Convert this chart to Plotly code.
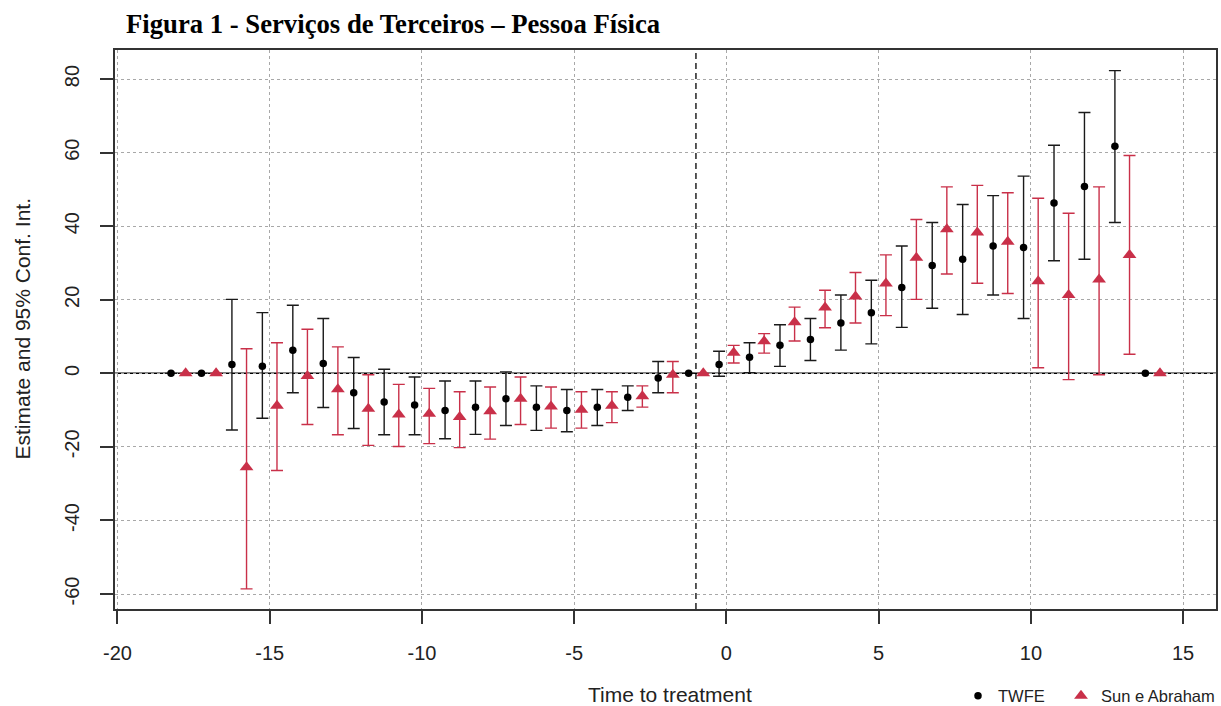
import plotly.graph_objects as go

# ---- data ----
periods = list(range(-18, 15))

twfe_est = [0, 0, 2.4, 1.9, 6.3, 2.7, -5.3, -7.8, -8.6, -10.1, -9.2, -6.9, -9.2, -10.1, -9.2, -6.5, -1.3, 0,
            2.4, 4.4, 7.6, 9.2, 13.7, 16.5, 23.3, 29.3, 31.0, 34.6, 34.2, 46.3, 50.8, 61.7, 0]
twfe_lo = [None, None, -15.4, -12.2, -5.3, -9.3, -15.0, -16.7, -16.7, -17.8, -16.6, -14.2, -15.5, -15.9, -14.2, -10.1, -5.3, None,
           -0.8, 0.2, 1.9, 3.5, 6.3, 8.0, 12.5, 17.7, 16.0, 21.3, 14.9, 30.6, 31.0, 41.0, None]
twfe_hi = [None, None, 20.1, 16.5, 18.5, 14.9, 4.3, 1.1, -1.0, -2.1, -2.1, 0.4, -3.4, -4.4, -4.4, -3.4, 3.2, None,
           6.0, 8.3, 13.2, 14.9, 21.3, 25.3, 34.6, 41.0, 45.9, 48.3, 53.6, 62.0, 70.9, 82.3, None]

sa_est = [0, 0, -25.5, -8.8, -0.7, -4.3, -9.6, -11.2, -11.0, -11.9, -10.3, -6.9, -9.0, -9.9, -8.8, -6.2, -0.4, 0,
          5.6, 8.7, 13.9, 17.9, 20.9, 24.4, 31.4, 39.2, 38.3, 35.8, 25.0, 21.3, 25.5, 32.2, 0]
sa_lo = [None, None, -58.6, -26.4, -13.9, -16.7, -19.6, -19.9, -19.1, -20.2, -17.9, -13.9, -14.9, -14.9, -13.4, -9.2, -5.3, None,
         2.8, 5.5, 8.8, 12.4, 13.7, 15.7, 20.1, 27.0, 24.5, 21.7, 1.5, -1.7, -0.4, 5.2, None]
sa_hi = [None, None, 6.7, 8.3, 12.0, 7.2, -0.4, -3.0, -4.1, -5.0, -3.7, -1.0, -3.7, -5.0, -5.0, -3.4, 3.2, None,
         7.6, 10.8, 18.0, 22.6, 27.4, 32.2, 41.8, 50.7, 51.1, 49.1, 47.6, 43.5, 50.7, 59.2, None]

x_ticks = [-20, -15, -10, -5, 0, 5, 10, 15]
y_ticks = [-60, -40, -20, 0, 20, 40, 60, 80]
ref_period = -1
dodge = 0.24

title_text = "Figura 1 - Serviços de Terceiros – Pessoa Física"
x_title = "Time to treatment"
y_title = "Estimate and 95% Conf. Int."
names = ["TWFE", "Sun e Abraham"]

RED = "#C93049"


def err_up(est, hi):
    return [None if h is None else h - e for e, h in zip(est, hi)]


def err_dn(est, lo):
    return [None if l is None else e - l for e, l in zip(est, lo)]


fig = go.Figure()

fig.add_trace(go.Scatter(
    x=[p - dodge for p in periods], y=twfe_est, mode="markers", name=names[0], legend="legend",
    marker=dict(symbol="circle", size=7.5, color="black"),
    error_y=dict(type="data", symmetric=False, array=err_up(twfe_est, twfe_hi),
                 arrayminus=err_dn(twfe_est, twfe_lo), color="#1a1a1a", thickness=1.4, width=6),
))
fig.add_trace(go.Scatter(
    x=[p + dodge for p in periods], y=sa_est, mode="markers", name=names[1], legend="legend2",
    marker=dict(symbol="triangle-up", size=12, color=RED),
    error_y=dict(type="data", symmetric=False, array=err_up(sa_est, sa_hi),
                 arrayminus=err_dn(sa_est, sa_lo), color=RED, thickness=1.4, width=6),
))

# zero line and reference-period line
fig.add_shape(type="line", xref="paper", yref="y", x0=0, x1=1, y0=0, y1=0,
              line=dict(color="black", width=1.5), layer="below")
fig.add_shape(type="line", xref="x", yref="paper", x0=ref_period, x1=ref_period, y0=0, y1=1,
              line=dict(color="black", width=1.3, dash="6px,4px"), layer="below")

axis_font = dict(family="Liberation Sans, Arial, sans-serif", size=20, color="#222")

fig.update_xaxes(
    range=[-20.08, 16.08], tickmode="array", tickvals=x_ticks, ticktext=[str(v) for v in x_ticks],
    showgrid=True, gridcolor="#A8A8A8", griddash="dot", gridwidth=1,
    zeroline=False, showline=True, linecolor="#333", linewidth=1.5, mirror=True,
    ticks="outside", ticklen=13, tickwidth=1.5, tickcolor="#333",
    tickfont=axis_font, ticklabelstandoff=12, automargin=False,
)
fig.update_yaxes(
    range=[-64.07, 87.9], tickmode="array", tickvals=y_ticks, ticktext=[str(v) for v in y_ticks],
    showgrid=True, gridcolor="#A8A8A8", griddash="dot", gridwidth=1,
    zeroline=False, showline=True, linecolor="#333", linewidth=1.5, mirror=True,
    ticks="outside", ticklen=13, tickwidth=1.5, tickcolor="#333",
    tickfont=axis_font, tickangle=-90, ticklabelstandoff=13, automargin=False,
)

fig.add_annotation(text="<b>" + title_text + "</b>", xref="paper", yref="paper",
                   x=(124 - 115) / 1101, y=1 + (50 - 24) / 559, xanchor="left", yanchor="middle",
                   showarrow=False, font=dict(family="Liberation Serif, Times New Roman, serif", size=26.7, color="black"))
fig.add_annotation(text=x_title, xref="paper", yref="paper",
                   x=(670 - 115) / 1101, y=-(694 - 609) / 559, xanchor="center", yanchor="middle",
                   showarrow=False, font=dict(family="Liberation Sans, Arial, sans-serif", size=21, color="#222"))
fig.add_annotation(text=y_title, xref="paper", yref="paper", textangle=-90,
                   x=-(115 - 22) / 1101, y=0.5, xanchor="center", yanchor="middle",
                   showarrow=False, font=dict(family="Liberation Sans, Arial, sans-serif", size=21, color="#222"))

legend_font = dict(family="Liberation Sans, Arial, sans-serif", size=16.5, color="#222")
fig.update_layout(
    width=1221, height=706,
    margin=dict(l=115, r=5, t=50, b=97, autoexpand=False),
    paper_bgcolor="white", plot_bgcolor="white",
    showlegend=True,
    legend=dict(orientation="h", xref="container", yref="container",
                x=958 / 1221, xanchor="left", y=(706 - 696) / 706, yanchor="middle",
                font=legend_font, itemwidth=30, bgcolor="rgba(0,0,0,0)"),
    legend2=dict(orientation="h", xref="container", yref="container",
                 x=1061 / 1221, xanchor="left", y=(706 - 696) / 706, yanchor="middle",
                 font=legend_font, itemwidth=30, bgcolor="rgba(0,0,0,0)"),
)

fig.write_html("out.html", config={"displayModeBar": False},
               post_script="document.body.style.margin='0px';document.body.style.overflow='hidden';")
